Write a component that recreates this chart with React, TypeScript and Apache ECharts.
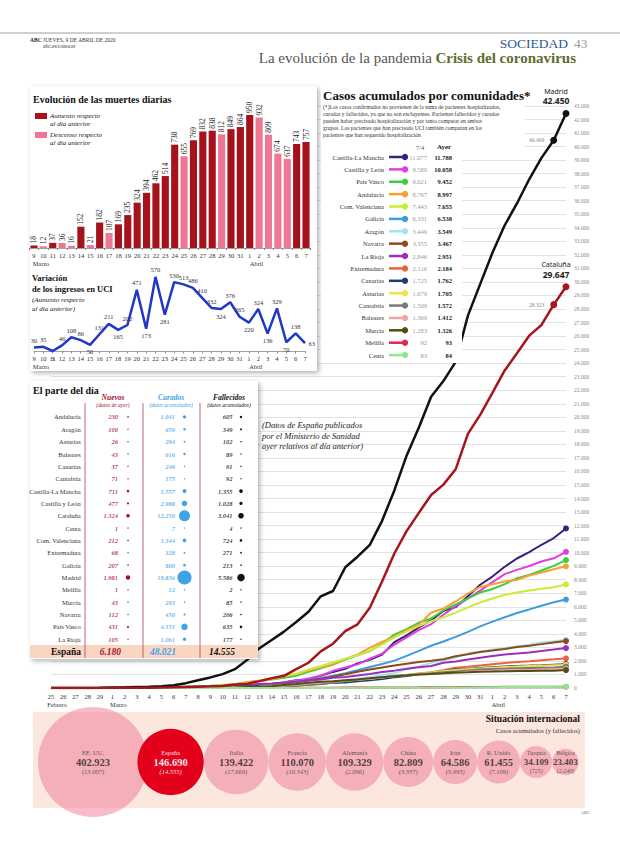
import React, { useEffect, useRef } from "react";
import * as echarts from "echarts";

const SERIF = '"Liberation Serif", "DejaVu Serif", serif';
const SANS = '"Noto Sans", "Liberation Sans", sans-serif';

// ---------- Cumulative cases by community (chart dates) ----------
const caseDates = ["25/2","26/2","27/2","28/2","29/2","1/3","2/3","3/3","4/3","5/3","6/3","7/3","8/3","9/3","10/3","11/3","12/3","13/3","14/3","15/3","16/3","17/3","18/3","19/3","20/3","21/3","22/3","23/3","24/3","25/3","26/3","27/3","28/3","29/3","30/3","31/3","1/4","2/4","3/4","4/4","5/4","6/4","7/4"];

const madrid = [1,2,5,8,10,29,49,70,90,137,202,358,577,782,1024,1388,2078,2940,3544,4165,4871,5637,6777,7165,8921,9702,10575,12352,14597,17166,19243,21520,22677,24090,27509,29840,32155,34188,35800,37584,39165,40469,42450];
const cataluna = [1,2,2,3,5,6,15,15,24,28,49,75,101,124,156,260,316,509,715,903,1394,1866,2702,3270,4203,4704,5925,7864,9937,11592,12940,14263,15026,16157,18773,20178,21804,23460,24734,26032,26824,28323,29647];

const castillaLaMancha = [0,0,0,0,0,0,0,3,7,12,13,17,26,26,39,115,194,252,289,401,567,612,902,1189,1423,1819,2078,2465,3383,3891,4484,4996,5688,5972,6780,7626,8232,8956,9568,10041,10583,11077,11788];
const castillaLeon = [0,0,0,0,0,0,2,3,4,7,11,18,24,33,47,82,150,193,302,420,549,695,904,1270,1515,1744,2162,2538,3213,3741,4274,4716,5414,6042,6610,7195,7817,8411,8729,9018,9342,9580,10058];
const paisVasco = [0,0,0,0,0,2,2,13,15,45,60,102,149,169,195,286,417,497,630,764,900,1190,1465,1725,2097,2421,2728,3271,3946,4355,4821,5136,5740,6184,6615,7051,7317,7678,8107,8353,8682,9021,9452];
const andalucia = [0,0,1,1,2,6,12,12,13,21,30,54,71,90,219,269,437,554,683,869,1008,1287,1515,1725,2150,2472,2977,3406,3793,4277,4682,5558,5869,6392,6972,7465,7668,7872,8003,8307,8533,8767,8997];
const comValenciana = [0,1,2,3,5,10,14,19,30,37,50,76,93,113,144,273,386,490,650,879,1052,1364,1604,1902,2167,2416,2746,3232,3734,4184,4570,4936,5222,5571,5959,6318,6609,6887,7061,7205,7331,7443,7655];
const galicia = [0,0,0,0,0,0,0,1,1,2,3,4,6,18,35,85,115,195,245,341,475,582,739,915,1094,1315,1553,1777,2022,2372,2739,3123,3439,3782,4142,4551,4901,5225,5540,5806,6078,6331,6538];
const aragon = [0,0,0,0,0,0,1,1,1,1,2,8,12,20,29,48,60,73,97,146,180,237,319,424,568,686,818,937,1099,1378,1589,1858,2050,2245,2560,2694,2842,2950,3075,3191,3358,3449,3549];
const navarra = [0,0,0,0,0,0,1,1,2,3,3,5,7,10,33,58,112,143,194,316,434,555,677,836,1011,1197,1366,1517,1659,1797,1925,2011,2119,2346,2496,2656,2763,2883,3030,3127,3242,3355,3467];
const laRioja = [0,0,0,0,1,3,6,11,15,27,33,58,90,102,134,171,231,298,337,388,458,553,630,751,807,918,1040,1174,1283,1418,1541,1629,1861,1960,2102,2241,2364,2470,2554,2624,2727,2846,2951];
const extremadura = [0,0,0,0,0,0,0,0,1,3,6,8,9,12,14,23,34,48,74,125,168,234,301,384,464,556,622,754,860,954,1079,1158,1309,1495,1567,1665,1760,1844,1918,1980,2050,2116,2184];
const canarias = [1,1,2,3,6,6,7,10,12,14,19,22,24,38,64,90,112,124,151,174,198,264,330,379,411,506,570,667,785,884,1025,1125,1262,1380,1412,1470,1537,1593,1626,1656,1689,1725,1762];
const asturias = [0,0,0,0,0,0,1,1,2,2,3,5,8,13,23,48,61,98,151,219,252,312,376,432,516,605,686,781,897,978,1050,1152,1250,1323,1388,1450,1504,1546,1585,1619,1651,1679,1705];
const cantabria = [0,0,0,0,0,1,2,2,4,6,6,8,10,12,14,21,35,65,96,142,182,247,302,407,514,615,702,796,886,961,1014,1085,1163,1226,1294,1359,1400,1431,1453,1475,1492,1509,1572];
const baleares = [2,2,2,2,2,3,6,6,7,9,11,11,13,14,28,44,59,85,115,169,241,325,401,474,560,634,682,769,862,932,993,1037,1071,1130,1203,1258,1280,1308,1321,1337,1355,1369,1412];
const murcia = [0,0,0,0,0,0,0,1,2,3,5,5,8,11,21,38,70,80,126,213,288,394,460,501,571,637,713,798,871,924,998,1039,1082,1143,1166,1206,1219,1234,1253,1262,1273,1283,1326];
const melilla = [0,0,0,0,0,0,0,0,0,0,0,1,1,1,2,2,3,6,7,9,10,14,19,24,29,32,36,39,43,46,48,56,61,66,72,78,82,84,86,88,90,92,93];
const ceuta = [0,0,0,0,0,0,0,0,0,0,0,0,0,0,0,0,0,1,1,2,2,3,4,6,7,9,10,12,14,19,24,28,36,40,46,52,59,66,70,74,79,83,84];

const communityNames = ["Castilla-La Mancha","Castilla y León","País Vasco","Andalucía","Com. Valenciana","Galicia","Aragón","Navarra","La Rioja","Extremadura","Canarias","Asturias","Cantabria","Baleares","Murcia","Melilla","Ceuta"];
const communitySeries = [castillaLaMancha,castillaLeon,paisVasco,andalucia,comValenciana,galicia,aragon,navarra,laRioja,extremadura,canarias,asturias,cantabria,baleares,murcia,melilla,ceuta];
const communityColors = ["#3b1f82","#e03ee0","#3fcc3f","#f5a033","#c9ec35","#3b9de0","#a4e2f0","#8f4a1c","#9a2fbf","#f0603f","#1b3f73","#f2e34a","#7a7a7a","#f4a3a3","#4f4f14","#e0284f","#8fe88f"];

// ---------- Daily deaths & ICU ----------
const dailyDates = ["9/3","10/3","11/3","12/3","13/3","14/3","15/3","16/3","17/3","18/3","19/3","20/3","21/3","22/3","23/3","24/3","25/3","26/3","27/3","28/3","29/3","30/3","31/3","1/4","2/4","3/4","4/4","5/4","6/4","7/4"];
const dailyDeaths = [18,12,37,36,16,152,21,182,107,169,235,324,394,462,514,738,655,769,832,838,812,849,864,950,932,809,674,637,743,757];
const icuVariation = [30,35,3,46,108,86,50,131,211,165,202,471,173,570,281,530,513,486,410,332,324,376,265,220,324,136,329,70,138,63];

// ---------- El parte del día ----------
const tableRegions = ["Andalucía","Aragón","Asturias","Baleares","Canarias","Cantabria","Castilla-La Mancha","Castilla y León","Cataluña","Ceuta","Com. Valenciana","Extremadura","Galicia","Madrid","Melilla","Murcia","Navarra","País Vasco","La Rioja"];
const nuevos = [230,100,26,43,37,71,711,477,1324,1,212,68,207,1981,1,43,112,431,105];
const curados = [1041,659,294,616,249,175,1557,2988,12250,7,1344,328,800,19836,12,203,450,4151,1061];
const fallecidos = [605,349,102,89,91,92,1355,1028,3041,4,724,271,213,5586,2,85,206,635,177];
const spainTotals = [6180,48021,14555];

// ---------- Situación internacional ----------
const countries = ["EE. UU.","España","Italia","Francia","Alemania","China","Irán","R. Unido","Turquía","Bélgica"];
const countryCases = [402923,146690,139422,110070,109329,82809,64586,61455,34109,23403];
const countryDeaths = [13007,14555,17669,10343,2096,3337,3993,7109,725,2240];

const MONTHS: Record<string, string> = { "2": "Febrero", "3": "Marzo", "4": "Abril" };
const fmt = (n: number) => String(n).replace(/\B(?=(\d{3})+(?!\d))/g, ".");

const DARK_RED = "#a5121c";
const PINK = "#ee7795";
const BLUE_ICU = "#2137c6";
const CURADOS_BLUE = "#3fa3e6";
const NUEVOS_RED = "#a3132a";

function T(x: number, y: number, text: string, o: any = {}) {
  const align = o.align || "left";
  return {
    type: "text", x, y, z: o.z ?? 6, silent: true,
    style: {
      text, fill: o.fill || "#222", fontSize: o.size || 7, fontWeight: o.weight || "normal",
      fontStyle: o.style || "normal", fontFamily: o.family || SERIF,
      align, textAlign: align, verticalAlign: "middle", textVerticalAlign: "middle",
    },
  };
}
// several single-line texts, first line centred at y
function TL(x: number, y: number, lines: string[], lh: number, o: any = {}) {
  return lines.map((s, i) => T(x, y + i * lh, s, o));
}

function dayLabelFormatter(v: string, i: number) {
  const [d, m] = v.split("/");
  const mon = i === 0 || d === "1" ? MONTHS[m] : "";
  return mon ? `{d|${d}}\n{m|${mon}}` : `{d|${d}}`;
}
const dayRich = (shift: number) => ({
  d: { fontSize: 6.5, color: "#333", fontFamily: SERIF, lineHeight: 8 },
  m: { fontSize: 6.3, color: "#333", fontFamily: SERIF, lineHeight: 8, padding: [0, 0, 0, shift] },
});

function buildOption() {
  const last = caseDates.length - 1;
  const series: any[] = [];
  const g: any[] = [];

  // ---- Main cumulative chart lines
  communityNames.forEach((name, k) => {
    const color = communityColors[k];
    series.push({
      type: "line", name, xAxisIndex: 0, yAxisIndex: 0, data: communitySeries[k],
      showSymbol: true, showAllSymbol: true, symbol: "circle",
      symbolSize: (_v: any, p: any) => (p.dataIndex === last ? 6 : 0),
      lineStyle: { width: 2, color }, itemStyle: { color }, z: 2, silent: true,
    });
  });
  const majors = [
    { name: "Madrid", data: madrid, color: "#111111" },
    { name: "Cataluña", data: cataluna, color: "#a8161d" },
  ];
  majors.forEach((m) => {
    series.push({
      type: "line", name: m.name, xAxisIndex: 0, yAxisIndex: 0,
      data: m.data.map((v, i) => {
        if (i === last) {
          return {
            value: v,
            label: {
              show: true, position: "top", distance: 4, offset: [-10, 0],
              formatter: `{a|${m.name}}\n{b|${fmt(v)}}`,
              rich: {
                a: { fontFamily: SANS, fontSize: 7, color: "#222", lineHeight: 9, align: "center" },
                b: { fontFamily: SANS, fontSize: 8.5, fontWeight: "bold", color: "#222", lineHeight: 10, align: "center" },
              },
            },
          };
        }
        if (i === last - 1) {
          return { value: v, label: { show: true, position: "left", distance: 6, formatter: fmt(v), fontSize: 5.5, color: "#888", fontFamily: SERIF } };
        }
        return v;
      }),
      showSymbol: true, showAllSymbol: true, symbol: "circle",
      symbolSize: (_v: any, p: any) => (p.dataIndex >= last - 1 ? 7 : 0),
      lineStyle: { width: 2.5, color: m.color }, itemStyle: { color: m.color }, z: 2, silent: true,
    });
  });

  // ---- Panels (background)
  const shadow = { shadowBlur: 5, shadowColor: "rgba(0,0,0,0.3)", shadowOffsetX: 2, shadowOffsetY: 2 };
  g.push({ type: "rect", z: 3, silent: true, shape: { x: 30, y: 86, width: 287, height: 285 }, style: { fill: "#fff", ...shadow } });
  g.push({ type: "rect", z: 3, silent: true, shape: { x: 30, y: 381, width: 228, height: 278 }, style: { fill: "#fff", ...shadow } });
  g.push({ type: "rect", z: 3, silent: true, shape: { x: 321, y: 86, width: 204, height: 64 }, style: { fill: "#fff" } });
  g.push({ type: "rect", z: 3, silent: true, shape: { x: 321, y: 150, width: 141, height: 213 }, style: { fill: "#fff" } });

  // ---- Header
  g.push({ type: "line", z: 1, silent: true, shape: { x1: 0, y1: 33, x2: 620, y2: 33 }, style: { stroke: "#a0a0a0", lineWidth: 1 } });
  g.push(T(30, 40, "ABC", { size: 5.5, weight: "bold" }));
  g.push(T(43, 40, "JUEVES, 9 DE ABRIL DE 2020", { size: 5.5, fill: "#333" }));
  g.push(T(43, 46, "abc.es/conocer", { size: 5.5, fill: "#333" }));
  g.push(T(568, 43, "SOCIEDAD", { size: 13.5, fill: "#2c5a8c", align: "right" }));
  g.push(T(574, 43, "43", { size: 13.5, fill: "#999" }));
  g.push(T(432, 58, "La evolución de la pandemia", { size: 15, fill: "#555", align: "right" }));
  g.push(T(576, 58, "Crisis del coronavirus", { size: 15, weight: "bold", fill: "#5d6e2e", align: "right" }));

  // ---- Cumulative chart title, notes, legend
  g.push(T(323, 95, "Casos acumulados por comunidades*", { size: 13, weight: "bold", fill: "#111" }));
  g.push(...TL(323, 107, [
    "(*)Los casos confirmados no provienen de la suma de pacientes hospitalizados,",
    "curados y fallecidos, ya que no son excluyentes. Pacientes fallecidos y curados",
    "pueden haber precisado hospitalización y por tanto computar en ambos",
    "grupos. Los pacientes que han precisado UCI también computan en los",
    "pacientes que han requerido hospitalización",
  ], 7, { size: 5.6, fill: "#333" }));
  g.push(T(420, 147, "7/4", { size: 6.5, fill: "#555", align: "center" }));
  g.push(T(444, 147, "Ayer", { size: 7, weight: "bold", fill: "#222", align: "center" }));
  communityNames.forEach((name, k) => {
    const y = 157 + k * 12.38;
    const c = communityColors[k];
    const s = communitySeries[k];
    g.push(T(384, y, name, { size: 6.5, fill: "#333", align: "right" }));
    g.push({ type: "line", z: 6, silent: true, shape: { x1: 389, y1: y, x2: 404, y2: y }, style: { stroke: c, lineWidth: 2.5 } });
    g.push({ type: "circle", z: 6, silent: true, shape: { cx: 405, cy: y, r: 3.2 }, style: { fill: c } });
    g.push(T(427, y, fmt(s[last - 1]), { size: 6.5, fill: "#9a9a9a", align: "right" }));
    g.push(T(452, y, fmt(s[last]), { size: 6.5, weight: "bold", fill: "#222", align: "right" }));
  });
  g.push(...TL(262, 425, ["(Datos de España publicados", "por el Ministerio de Sanidad", "ayer relativos al día anterior)"], 10.5, { size: 8.5, style: "italic", fill: "#222" }));

  // ---- Panel 1: deaths + ICU
  g.push(T(33, 99, "Evolución de las muertes diarias", { size: 10, weight: "bold", fill: "#111" }));
  g.push({ type: "rect", z: 6, silent: true, shape: { x: 35, y: 113, width: 12, height: 6 }, style: { fill: DARK_RED } });
  g.push({ type: "rect", z: 6, silent: true, shape: { x: 35, y: 132, width: 12, height: 6 }, style: { fill: PINK } });
  g.push(...TL(50, 116, ["Aumento respecto", "al día anterior"], 8, { size: 7, style: "italic", fill: "#222" }));
  g.push(...TL(50, 135, ["Descenso respecto", "al día anterior"], 8, { size: 7, style: "italic", fill: "#222" }));

  g.push(...TL(32, 278, ["Variación", "de los ingresos en UCI"], 10.5, { size: 8.5, weight: "bold", fill: "#111" }));
  g.push(...TL(32, 300, ["(Aumento respecto", "al día anterior)"], 8.5, { size: 7, style: "italic", fill: "#222" }));

  series.push({
    type: "bar", xAxisIndex: 1, yAxisIndex: 1, z: 5, silent: true, barCategoryGap: "24%",
    data: dailyDeaths.map((v, i) => ({ value: v, itemStyle: { color: i > 0 && v < dailyDeaths[i - 1] ? PINK : DARK_RED } })),
    label: { show: true, position: "top", rotate: 90, align: "left", verticalAlign: "middle", distance: 2, fontSize: 7.5, color: "#222", fontFamily: SERIF },
  });

  const n = icuVariation.length;
  series.push({
    type: "line", xAxisIndex: 2, yAxisIndex: 2, z: 5, silent: true,
    data: icuVariation.map((v, i) => {
      const isMin = i > 0 && i < n - 1 && v < icuVariation[i - 1] && v < icuVariation[i + 1];
      const pos = i === n - 1 ? "right" : isMin ? "bottom" : "top";
      return { value: v, label: { position: pos } };
    }),
    showSymbol: true, showAllSymbol: true, symbol: "circle", symbolSize: 1,
    itemStyle: { color: "rgba(0,0,0,0)" },
    lineStyle: { width: 2.5, color: BLUE_ICU },
    label: { show: true, fontSize: 6.5, color: "#333", fontFamily: SERIF, distance: 3 },
  });

  // ---- Panel 2: El parte del día
  g.push(T(33, 390, "El parte del día", { size: 10, weight: "bold", fill: "#111" }));
  g.push(T(113, 397, "Nuevos", { size: 7.5, weight: "bold", style: "italic", fill: NUEVOS_RED, align: "center" }));
  g.push(T(113, 405, "(datos de ayer)", { size: 5.5, style: "italic", fill: NUEVOS_RED, align: "center" }));
  g.push(T(171, 397, "Curados", { size: 7.5, weight: "bold", style: "italic", fill: CURADOS_BLUE, align: "center" }));
  g.push(T(171, 405, "(datos acumulados)", { size: 5.5, style: "italic", fill: CURADOS_BLUE, align: "center" }));
  g.push(T(229, 397, "Fallecidos", { size: 7.5, weight: "bold", style: "italic", fill: "#111", align: "center" }));
  g.push(T(229, 405, "(datos acumulados)", { size: 5.5, style: "italic", fill: "#111", align: "center" }));
  g.push({ type: "rect", z: 4, silent: true, shape: { x: 30, y: 645, width: 228, height: 13 }, style: { fill: "#fad6c2" } });
  [85, 143, 200].forEach((x) => {
    g.push({ type: "line", z: 4, silent: true, shape: { x1: x, y1: 403, x2: x, y2: 658 }, style: { stroke: "#b0404c", lineWidth: 0.8 } });
  });
  g.push(T(81, 652, "España", { size: 9.5, weight: "bold", fill: "#111", align: "right" }));
  g.push(T(121, 652, fmt(spainTotals[0]), { size: 9.5, weight: "bold", style: "italic", fill: NUEVOS_RED, align: "right" }));
  g.push(T(176, 652, fmt(spainTotals[1]), { size: 9.5, weight: "bold", style: "italic", fill: CURADOS_BLUE, align: "right" }));
  g.push(T(235, 652, fmt(spainTotals[2]), { size: 9.5, weight: "bold", style: "italic", fill: "#111", align: "right" }));

  const cols = [
    { vals: nuevos, color: NUEVOS_RED, dist: 9.5 },
    { vals: curados, color: CURADOS_BLUE, dist: 9 },
    { vals: fallecidos, color: "#111", dist: 8 },
  ];
  cols.forEach((c, ci) => {
    const x = ci + 0.5;
    series.push({
      type: "scatter", xAxisIndex: 3, yAxisIndex: 3, z: 5, silent: true,
      data: c.vals.map((v, i) => [x, i]),
      symbolSize: (_v: any, p: any) => Math.max(1.3, 0.1 * Math.sqrt(c.vals[p.dataIndex])),
      itemStyle: { color: c.color, opacity: 1 },
    });
    series.push({
      type: "scatter", xAxisIndex: 3, yAxisIndex: 3, z: 5, silent: true,
      data: c.vals.map((v, i) => [x, i, v]),
      symbolSize: 1, itemStyle: { color: "rgba(0,0,0,0)" },
      label: {
        show: true, position: "left", distance: c.dist,
        formatter: (p: any) => fmt(p.value[2]),
        fontSize: 6.5, fontWeight: "bold", fontStyle: "italic", color: c.color, fontFamily: SERIF,
      },
    });
  });

  // ---- International bubbles
  g.push({ type: "rect", z: 1, silent: true, shape: { x: 33, y: 712, width: 552, height: 96 }, style: { fill: "#fbe7de" } });
  g.push(T(580, 719, "Situación internacional", { size: 9.5, weight: "bold", fill: "#111", align: "right", z: 8 }));
  g.push(T(580, 730, "Casos acumulados (y fallecidos)", { size: 6.5, fill: "#333", align: "right", z: 8 }));
  g.push(T(590, 812, "ABC", { size: 4.5, fill: "#666", align: "right" }));

  const RMAX = 55;
  const radii = countryCases.map((v) => RMAX * Math.sqrt(v / countryCases[0]));
  const centers: number[] = [];
  // touching bubbles, España overlapping the largest one
  radii.forEach((r, i) => centers.push(i === 0 ? 38 + r : centers[i - 1] + (radii[i - 1] + r) * (i === 1 ? 0.88 : 1)));
  series.push({
    type: "scatter", xAxisIndex: 4, yAxisIndex: 4, z: 3, silent: true, clip: false,
    data: countries.map((c, i) => ({
      value: [centers[i], 0.5],
      itemStyle: i === 1 ? { color: "#e3001b", opacity: 1 } : { color: "rgba(238,118,145,0.62)" },
    })),
    symbolSize: (_v: any, p: any) => radii[p.dataIndex] * 2,
    label: {
      show: true, position: "inside",
      formatter: (p: any) => {
        const i = p.dataIndex;
        const s = i === 1 ? "2" : radii[i] < 20 ? "3" : "";
        return `{n${s}|${countries[i]}}\n{v${s}|${fmt(countryCases[i])}}\n{d${s}|(${fmt(countryDeaths[i])})}`;
      },
      rich: {
        n: { fontSize: 6.5, color: "#333", fontFamily: SERIF, lineHeight: 8, align: "center" },
        v: { fontSize: 10.5, fontWeight: "bold", color: "#222", fontFamily: SERIF, lineHeight: 11.5, align: "center" },
        d: { fontSize: 6.5, fontStyle: "italic", color: "#333", fontFamily: SERIF, lineHeight: 8, align: "center" },
        n2: { fontSize: 6.5, color: "#ffe3e6", fontFamily: SERIF, lineHeight: 8, align: "center" },
        v2: { fontSize: 10.5, fontWeight: "bold", color: "#ffe3e6", fontFamily: SERIF, lineHeight: 11.5, align: "center" },
        d2: { fontSize: 6.5, fontStyle: "italic", color: "#ffe3e6", fontFamily: SERIF, lineHeight: 8, align: "center" },
        n3: { fontSize: 6, color: "#333", fontFamily: SERIF, lineHeight: 8, align: "center" },
        v3: { fontSize: 9, fontWeight: "bold", color: "#222", fontFamily: SERIF, lineHeight: 10.5, align: "center" },
        d3: { fontSize: 6, fontStyle: "italic", color: "#333", fontFamily: SERIF, lineHeight: 8, align: "center" },
      },
    },
  });

  return {
    animation: false,
    backgroundColor: "#ffffff",
    grid: [
      { left: 51, right: 54, top: 106, bottom: 158 },
      { left: 29.3, right: 309.3, top: 108, bottom: 598 },
      { left: 34, right: 315, top: 273, bottom: 494.6 },
      { left: 99.75, right: 350.75, top: 410.8, bottom: 200.6 },
      { left: 0, right: 0, top: 712, height: 100 },
    ],
    xAxis: [
      {
        gridIndex: 0, type: "category", data: caseDates, boundaryGap: false,
        axisLine: { lineStyle: { color: "#bbb", width: 0.6 } }, axisTick: { show: false },
        axisLabel: { interval: 0, margin: 4, formatter: dayLabelFormatter, rich: dayRich(12) },
      },
      {
        gridIndex: 1, type: "category", data: dailyDates, z: 5,
        axisLine: { lineStyle: { color: "#888", width: 0.8 } },
        axisTick: { show: true, length: 2, lineStyle: { color: "#888" } },
        axisLabel: { interval: 0, margin: 3, formatter: dayLabelFormatter, rich: dayRich(14) },
      },
      {
        gridIndex: 2, type: "category", data: dailyDates, boundaryGap: false, z: 5,
        axisLine: { lineStyle: { color: "#888", width: 0.8 } },
        axisTick: { show: true, length: 2, lineStyle: { color: "#888" } },
        axisLabel: { interval: 0, margin: 3, formatter: dayLabelFormatter, rich: dayRich(14) },
      },
      { gridIndex: 3, type: "value", min: 0, max: 3, show: false },
      { gridIndex: 4, type: "value", min: 0, max: 620, show: false },
    ],
    yAxis: [
      {
        gridIndex: 0, type: "value", position: "right", min: 0, max: 43000, interval: 1000,
        axisLine: { show: false }, axisTick: { show: false },
        axisLabel: { fontSize: 5.5, color: "#8a8a8a", fontFamily: SERIF, margin: 8, formatter: (v: number) => fmt(v) },
        splitLine: { lineStyle: { color: "#d6d6d6", width: 0.7 } },
      },
      { gridIndex: 1, type: "value", min: 0, max: 1000, show: false },
      { gridIndex: 2, type: "value", min: 0, max: 600, show: false },
      {
        gridIndex: 3, type: "category", data: tableRegions, inverse: true, z: 5,
        axisLine: { show: false }, axisTick: { show: false },
        axisLabel: { fontSize: 6.5, color: "#333", fontFamily: SERIF, margin: 19 },
      },
      { gridIndex: 4, type: "value", min: 0, max: 1, show: false },
    ],
    series,
    graphic: { elements: g },
  };
}

export default function App() {
  const ref = useRef<HTMLDivElement>(null);
  useEffect(() => {
    if (!ref.current) return;
    const chart = echarts.init(ref.current, null, { renderer: "svg" });
    chart.setOption(buildOption() as any);
    return () => chart.dispose();
  }, []);
  return (
    <div
      ref={ref}
      style={{ position: "absolute", left: 0, top: 0, width: 620, height: 846, background: "#fff" }}
    />
  );
}
